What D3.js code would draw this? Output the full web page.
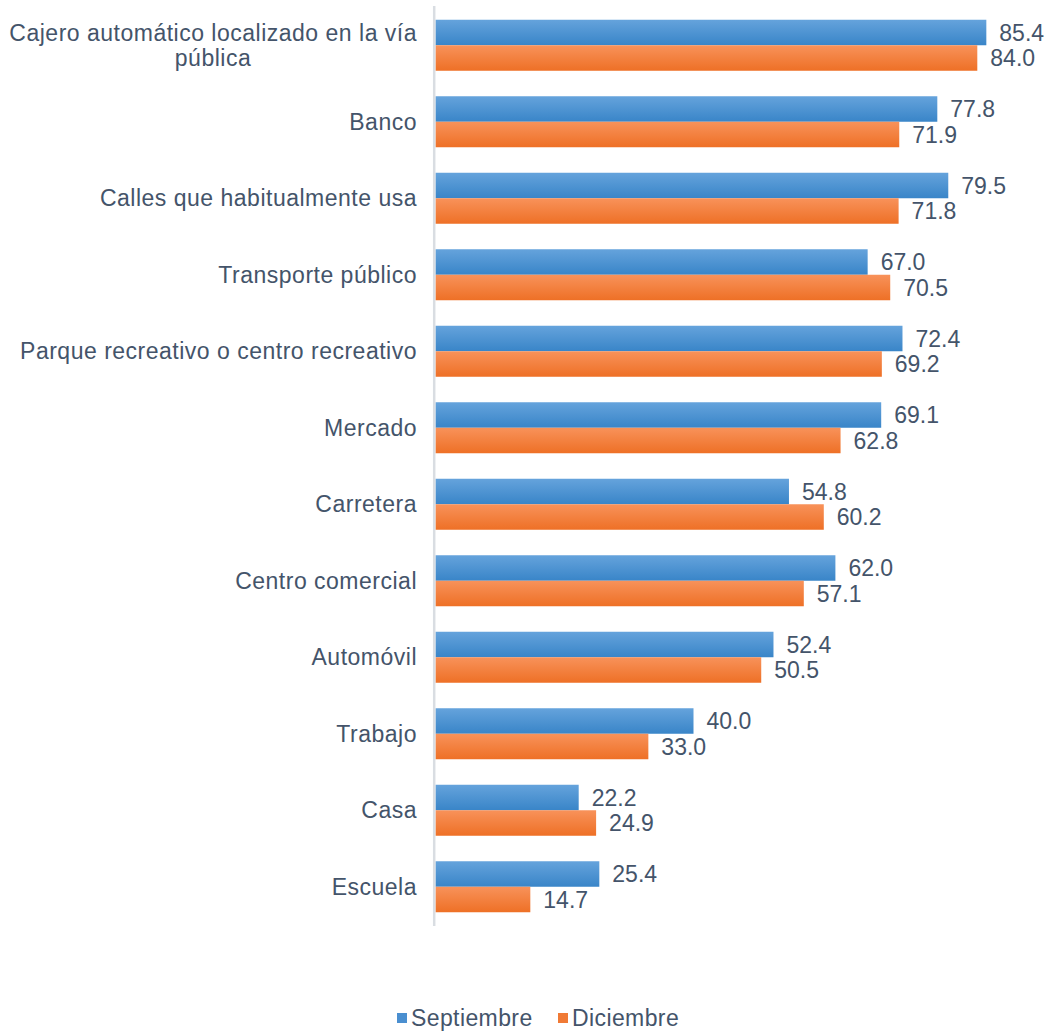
<!DOCTYPE html>
<meta charset="utf-8">
<script src="https://d3js.org/d3.v7.min.js"></script>
<body style="margin:0;background:#fff">
<script>

// categories, top to bottom
var categories = ["Cajero automático localizado en la vía pública", "Banco", "Calles que habitualmente usa",
    "Transporte público", "Parque recreativo o centro recreativo", "Mercado", "Carretera",
    "Centro comercial", "Automóvil", "Trabajo", "Casa", "Escuela"];
var septiembre = [85.4, 77.8, 79.5, 67.0, 72.4, 69.1, 54.8, 62.0, 52.4, 40.0, 22.2, 25.4];
var diciembre = [84.0, 71.9, 71.8, 70.5, 69.2, 62.8, 60.2, 57.1, 50.5, 33.0, 24.9, 14.7];
var seriesNames = ["Septiembre", "Diciembre"];

var width = 1050, height = 1032;
var textColor = "#44546a";

var svg = d3.select("body").append("svg")
    .attr("width", width)
    .attr("height", height)
    .style("font-family", "'Liberation Sans', Arial, sans-serif");

// gradients for the two series
var defs = svg.append("defs");
var grads = [["gBlue", "#65a3dc", "#3985c8"], ["gOrange", "#f8925a", "#ee7026"]];
grads.forEach(function(g) {
    var lg = defs.append("linearGradient").attr("id", g[0])
        .attr("x1", 0).attr("y1", 0).attr("x2", 0).attr("y2", 1);
    lg.append("stop").attr("offset", "0%").attr("stop-color", g[1]);
    lg.append("stop").attr("offset", "100%").attr("stop-color", g[2]);
});
var fills = ["url(#gBlue)", "url(#gOrange)"];
var legendColors = ["#4a8fd0", "#f07a35"];

var x = d3.scaleLinear().domain([0, 100]).range([435.5, 1080.5]);
var y = d3.scaleBand().domain(categories).range([7, 925]).paddingInner(1 / 3).paddingOuter(1 / 6);
var ySub = d3.scaleBand().domain([0, 1]).range([0, y.bandwidth()]);

var data = categories.map(function(c, i) {
    return { cat: c, vals: [septiembre[i], diciembre[i]] };
});

var groups = svg.selectAll(".grp")
    .data(data)
    .enter().append("g")
    .attr("class", "grp")
    .attr("transform", function(d) { return "translate(0," + y(d.cat) + ")"; });

groups.selectAll("rect")
    .data(function(d) { return d.vals; })
    .enter().append("rect")
    .attr("x", x(0))
    .attr("y", function(d, i) { return ySub(i); })
    .attr("width", function(d) { return x(d) - x(0); })
    .attr("height", ySub.bandwidth())
    .attr("fill", function(d, i) { return fills[i]; });

groups.selectAll(".val")
    .data(function(d) { return d.vals; })
    .enter().append("text")
    .attr("class", "val")
    .attr("x", function(d) { return x(d) + 13; })
    .attr("y", function(d, i) { return ySub(i) + ySub.bandwidth() / 2; })
    .attr("dy", "0.35em")
    .attr("fill", textColor)
    .style("font-size", "23px")
    .text(function(d) { return d.toFixed(1); });

// axis line
svg.append("line")
    .attr("x1", 434.2).attr("x2", 434.2)
    .attr("y1", 6).attr("y2", 926)
    .attr("stroke", "#d9dde2").attr("stroke-width", 2.5);

// category labels (wrapped where the original wraps)
svg.selectAll(".cat")
    .data(categories)
    .enter().append("text")
    .attr("class", "cat")
    .attr("text-anchor", "end")
    .attr("fill", textColor)
    .style("font-size", "23px")
    .style("letter-spacing", "0.5px")
    .attr("y", function(d) { return y(d) + y.bandwidth() / 2; })
    .each(function(d) {
        var t = d3.select(this);
        if (d.indexOf("Cajero") === 0) {
            t.append("tspan").attr("x", 417).attr("dy", "-0.2em").text("Cajero automático localizado en la vía");
            t.append("tspan").attr("x", 213).attr("text-anchor", "middle").attr("dy", "1.1em").text("pública");
        } else {
            t.append("tspan").attr("x", 417).attr("dy", "0.35em").text(d);
        }
    });

// legend
var legendX = [397, 558];
var legend = svg.selectAll(".leg")
    .data(seriesNames)
    .enter().append("g")
    .attr("class", "leg")
    .attr("transform", function(d, i) { return "translate(" + legendX[i] + ",1018)"; });
legend.append("rect")
    .attr("x", 0).attr("y", -5).attr("width", 10).attr("height", 10)
    .attr("fill", function(d, i) { return legendColors[i]; });
legend.append("text")
    .attr("x", 14).attr("dy", "0.35em")
    .attr("fill", textColor)
    .style("font-size", "23px")
    .style("letter-spacing", "0.4px")
    .text(function(d) { return d; });

</script>
</body>
